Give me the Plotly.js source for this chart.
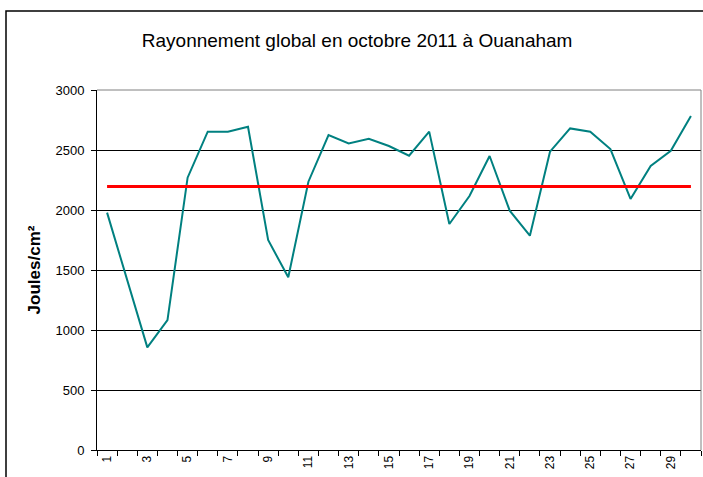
<!DOCTYPE html>
<html>
<head>
<meta charset="utf-8">
<script src="https://cdn.plot.ly/plotly-3.0.1.min.js"></script>
<style>
html,body{margin:0;padding:0;background:#fff;}
#chart{width:703px;height:477px;}
</style>
</head>
<body>
<div id="chart"></div>
<script>
const days = [1,2,3,4,5,6,7,8,9,10,11,12,13,14,15,16,17,18,19,20,21,22,23,24,25,26,27,28,29,30];
const radiation = [1978,1410,855,1083,2269,2653,2653,2694,1750,1439,2236,2625,2555,2594,2533,2453,2653,1883,2117,2450,1994,1786,2486,2680,2653,2508,2092,2367,2494,2783];
const meanValue = 2195;
const xTickVals = [1,3,5,7,9,11,13,15,17,19,21,23,25,27,29];
const xTickText = ["1","3","5","7","9","11","13","15","17","19","21","23","25","27","29"];
const yTickVals = [0,500,1000,1500,2000,2500,3000];
const titleText = "Rayonnement global en octobre 2011 à Ouanaham";
const yTitleText = "Joules/cm²";

const font = "Liberation Sans, Arial, sans-serif";

const traces = [
  {
    x: days, y: radiation, type: "scatter", mode: "lines",
    line: {color: "#008080", width: 2}, hoverinfo: "x+y"
  },
  {
    x: [days[0], days[days.length-1]], y: [meanValue, meanValue],
    type: "scatter", mode: "lines",
    line: {color: "#FF0000", width: 3}
  }
];

const layout = {
  width: 703, height: 477,
  margin: {l: 97, r: 2, t: 90, b: 27},
  paper_bgcolor: "#ffffff", plot_bgcolor: "#ffffff",
  showlegend: false,
  font: {family: font, color: "#000"},
  title: {
    text: titleText,
    font: {family: font, size: 19, color: "#000"},
    xref: "container", x: 0.508, xanchor: "center",
    yref: "container", y: 1 - 40/477, yanchor: "middle"
  },
  xaxis: {
    range: [0.5, 30.5],
    tickmode: "array", tickvals: xTickVals, ticktext: xTickText,
    ticks: "", tickangle: -90,
    tickfont: {family: font, size: 12, color: "#000"},
    showgrid: false, zeroline: false,
    showline: true, linecolor: "#000", linewidth: 1,
    minor: {ticks: "outside", tick0: 0.5, dtick: 1, ticklen: 5, tickcolor: "#000", tickwidth: 1, showgrid: false},
    fixedrange: true
  },
  yaxis: {
    range: [0, 3000],
    tickmode: "array", tickvals: yTickVals,
    ticks: "outside", ticklen: 5, tickcolor: "#000", tickwidth: 1,
    ticklabelstandoff: 4,
    tickfont: {family: font, size: 13, color: "#000"},
    showgrid: true, gridcolor: "#000", gridwidth: 1,
    zeroline: false,
    showline: true, linecolor: "#000", linewidth: 1,
    title: {text: yTitleText, font: {family: font, size: 17, color: "#000", weight: "bold"}, standoff: 10},
    fixedrange: true
  },
  shapes: [
    {type: "line", xref: "paper", yref: "paper", x0: 0, x1: 1, y0: 1, y1: 1, line: {color: "#808080", width: 1}, layer: "above"},
    {type: "line", xref: "paper", yref: "paper", x0: 1, x1: 1, y0: 0, y1: 1, line: {color: "#808080", width: 1}, layer: "above"},
    {type: "rect", xref: "paper", yref: "paper", x0: (6-97)/604, x1: 1.2, y0: -0.3, y1: (450-11)/360, line: {color: "#000", width: 1.5}, layer: "below"}
  ]
};

Plotly.newPlot("chart", traces, layout, {displayModeBar: false, staticPlot: true});
</script>
</body>
</html>
